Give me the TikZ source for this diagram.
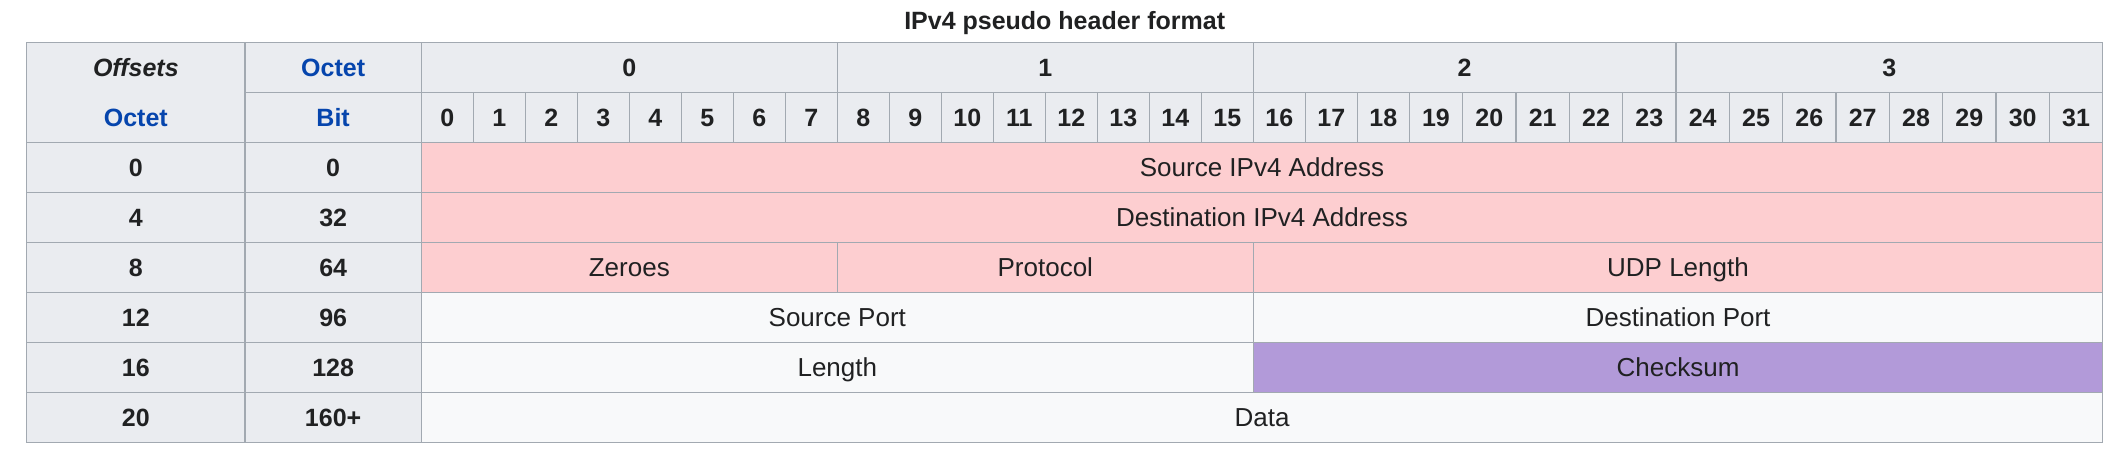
\documentclass[tikz,border=0pt]{standalone}
\usepackage{fontspec}
\setmainfont{Liberation Sans}
\definecolor{gridgrey}{RGB}{162, 169, 177}
\definecolor{headgrey}{RGB}{234, 236, 240}
\definecolor{cellwhite}{RGB}{248, 249, 250}
\definecolor{fieldpink}{RGB}{253, 206, 208}
\definecolor{sumpurple}{RGB}{178, 154, 217}
\definecolor{linkblue}{RGB}{6, 69, 173}
\definecolor{inkblack}{RGB}{32, 33, 34}
\usepackage{tikz}

\begin{document}
\begin{tikzpicture}[x=1pt, y=-1pt,
  celltext/.style={inner sep=0pt, outer sep=0pt, text height=18pt, text depth=0pt, text=inkblack, font=\fontsize{26}{30}\selectfont},
  cell/.style={celltext, draw=gridgrey, line width=1.5pt, minimum height=50pt},
  headcell/.style={cell, fill=headgrey, font=\fontsize{25}{30}\selectfont\bfseries},
  plaincell/.style={cell, fill=cellwhite},
  pinkcell/.style={cell, fill=fieldpink},
  sumcell/.style={cell, fill=sumpurple}]
  \useasboundingbox (0,0) rectangle (2128,460);

  % Title
  \node[celltext, font=\fontsize{25}{30}\selectfont\bfseries] (title) at (1064.7,21) {IPv4 pseudo header format};

  % Header rows
  \node[headcell, minimum width=218.3pt, minimum height=100pt] (offsets) at (135.85,92.7) {};
  \node[celltext, font=\fontsize{25}{30}\selectfont\bfseries\itshape] (offlabel) at (135.85,67.7) {Offsets};
  \node[celltext, font=\fontsize{25}{30}\selectfont\bfseries, text=linkblue] (octlabel) at (135.85,117.7) {Octet};
  \node[headcell, minimum width=176.3pt, text=linkblue] (octethead) at (333.15,67.7) {Octet};
  \node[headcell, minimum width=176.3pt, text=linkblue] (bithead) at (333.15,117.7) {Bit};
  \foreach \x/\w/\n in {629.3/416/0, 1045.3/416/1, 1464.65/422.7/2, 1889.35/426.7/3}
    \node[headcell, minimum width=\w pt] (byte\n) at (\x,67.7) {\n};
  \foreach \i in {0,...,31} {
    \pgfmathsetmacro\bitx{\i<19 ? 421.3+52*(\i+0.5) : 1409.3+53.34*(\i-18.5)}
    \pgfmathsetmacro\bitw{\i<19 ? 52 : 53.34}
    \node[headcell, minimum width=\bitw pt] (bit\i) at (\bitx,117.7) {\i};
  }

  % Offsets column
  \foreach \o/\b [count=\r from 0] in {0/0, 4/32, 8/64, 12/96, 16/128, 20/160+} {
    \pgfmathsetmacro\rowy{167.7+50*\r}
    \node[headcell, minimum width=218.3pt] (octoff\r) at (135.85,\rowy) {\o};
    \node[headcell, minimum width=176.3pt] (bitoff\r) at (333.15,\rowy) {\b};
  }

  % Pseudo header fields
  \node[pinkcell, minimum width=1681.4pt] (srcaddr) at (1262,167.7) {Source IPv4 Address};
  \node[pinkcell, minimum width=1681.4pt] (dstaddr) at (1262,217.7) {Destination IPv4 Address};
  \node[pinkcell, minimum width=416pt] (zeroes) at (629.3,267.7) {Zeroes};
  \node[pinkcell, minimum width=416pt] (proto) at (1045.3,267.7) {Protocol};
  \node[pinkcell, minimum width=849.4pt] (udplen) at (1678,267.7) {UDP Length};

  % UDP header fields
  \node[plaincell, minimum width=832pt] (srcport) at (837.3,317.7) {Source Port};
  \node[plaincell, minimum width=849.4pt] (dstport) at (1678,317.7) {Destination Port};
  \node[plaincell, minimum width=832pt] (length) at (837.3,367.7) {Length};
  \node[sumcell, minimum width=849.4pt] (checksum) at (1678,367.7) {Checksum};
  \node[plaincell, minimum width=1681.4pt] (data) at (1262,417.7) {Data};
\end{tikzpicture}
\end{document}
